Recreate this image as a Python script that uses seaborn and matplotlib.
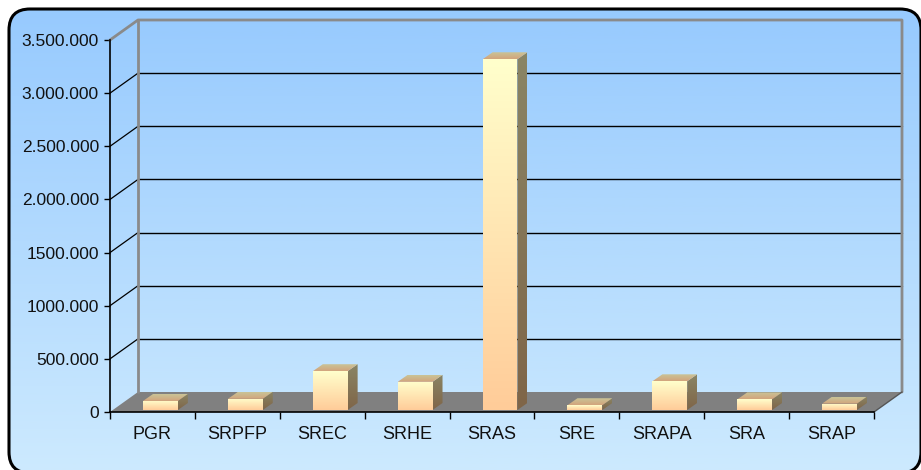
import numpy as np
import matplotlib
matplotlib.use("Agg")
import matplotlib.pyplot as plt
from matplotlib.patches import FancyBboxPatch, Polygon, Rectangle
from matplotlib.transforms import IdentityTransform
from matplotlib.colors import to_rgb
import seaborn as sns

# ---- data ----
categories = ["PGR", "SRPFP", "SREC", "SRHE", "SRAS", "SRE", "SRAPA", "SRA", "SRAP"]
values = [85000, 105000, 365000, 265000, 3300000, 45000, 270000, 100000, 60000]
ytick_values = [0, 500000, 1000000, 1500000, 2000000, 2500000, 3000000, 3500000]
ytick_labels = ["0", "500.000", "1000.000", "1500.000", "2.000.000",
                "2.500.000", "3.000.000", "3.500.000"]

sns.set_theme(style="white")
plt.rcParams["font.family"] = ["Liberation Sans", "DejaVu Sans"]

W, H = 921, 470
fig = plt.figure(figsize=(W / 100, H / 100), dpi=100)
fig.patch.set_facecolor("white")

# ---- background frame (pixel coords, y up) ----
axbg = fig.add_axes([0, 0, 1, 1])
axbg.set_xlim(0, W)
axbg.set_ylim(0, H)
axbg.axis("off")
fl_, ft_, fr_, fb_ = 9, 9, 921, 473   # left, top, right, bottom in image px
frame = FancyBboxPatch((fl_, H - fb_), fr_ - fl_, fb_ - ft_,
                       boxstyle="round,pad=0,rounding_size=21",
                       facecolor="none", edgecolor="black", linewidth=2.2, zorder=3,
                       clip_on=False)
axbg.add_patch(frame)
t = np.linspace(0, 1, 256).reshape(-1, 1)
top_c = np.array(to_rgb("#97cafe"))
bot_c = np.array(to_rgb("#cdeafe"))
grad = top_c[None, None, :] * (1 - t[:, :, None]) + bot_c[None, None, :] * t[:, :, None]
img = axbg.imshow(grad, extent=[fl_, fr_, H - fb_, H - ft_], origin="upper",
                  aspect="auto", zorder=1)
img.set_clip_path(frame)

# ---- main axes ----
x0p, x1p, y0p, y1p = 110, 874, 412, 40
ax = fig.add_axes([x0p / W, (H - y0p) / H, (x1p - x0p) / W, (y0p - y1p) / H])
ax.patch.set_visible(False)

sns.barplot(x=categories, y=values, ax=ax, width=0.41, color="#ffd9a8",
            linewidth=0, saturation=1, zorder=5)
ax.set_xlim(-0.5, len(categories) - 0.5)
ax.set_ylim(0, ytick_values[-1])
ax.set_autoscale_on(False)

DX, DY = 28, 20      # depth of back wall (px)
BDX, BDY = 8, 2      # bar front-plane offset
SDX, SDY = 10, 7     # bar depth
ident = IdentityTransform()


def P(x, y, dx=0, dy=0):
    px, py = ax.transData.transform((x, y))
    return (px + dx, py + dy)


xl, xr = -0.5, len(categories) - 0.5
ymax = ytick_values[-1]

# floor
floor = Polygon([P(xl, 0), P(xr, 0), P(xr, 0, DX, DY), P(xl, 0, DX, DY)],
                closed=True, transform=ident, facecolor="#808080",
                edgecolor="none", clip_on=False, zorder=1)
ax.add_patch(floor)

# back-wall gridlines & side-wall lines
for v in ytick_values[1:-1]:
    a, b = P(xl, v, DX, DY), P(xr, v, DX, DY)
    ax.add_line(plt.Line2D([a[0], b[0]], [a[1], b[1]], transform=ident,
                           color="black", lw=1.0, clip_on=False, zorder=2))
    c = P(xl, v)
    ax.add_line(plt.Line2D([c[0], a[0]], [c[1], a[1]], transform=ident,
                           color="black", lw=0.9, clip_on=False, zorder=2))
gray = "#8a8a8a"
pts = [P(xl, ymax), P(xl, ymax, DX, DY), P(xr, ymax, DX, DY), P(xr, 0, DX, DY)]
ax.add_line(plt.Line2D([p[0] for p in pts], [p[1] for p in pts], transform=ident,
                       color=gray, lw=2.0, clip_on=False, zorder=2))
a, b = P(xl, 0, DX, DY), P(xl, ymax, DX, DY)
ax.add_line(plt.Line2D([a[0], b[0]], [a[1], b[1]], transform=ident,
                       color=gray, lw=2.0, clip_on=False, zorder=2))
a, b = P(xr, 0), P(xr, 0, DX, DY)
ax.add_line(plt.Line2D([a[0], b[0]], [a[1], b[1]], transform=ident,
                       color="#555555", lw=1.0, clip_on=False, zorder=2))


def grad_poly(pts, c1, c2, z=6):
    poly = Polygon(pts, closed=True, transform=ident, facecolor="none",
                   edgecolor="none", clip_on=False, zorder=z)
    ax.add_patch(poly)
    xs = [p[0] for p in pts]
    ys = [p[1] for p in pts]
    tt = np.linspace(0, 1, 128)
    c1 = np.array(to_rgb(c1)); c2 = np.array(to_rgb(c2))
    cols = c1[None, :] * (1 - tt[:, None]) + c2[None, :] * tt[:, None]
    arr = cols[:, None, :]
    im = ax.imshow(arr, extent=[min(xs), max(xs), min(ys), max(ys)],
                   origin="lower", aspect="auto", transform=ident,
                   interpolation="bilinear", zorder=z)
    im.set_clip_path(poly)
    return poly


for patch in list(ax.patches):
    if patch is floor or not isinstance(patch, Rectangle):
        continue
    bx, bw, bh = patch.get_x(), patch.get_width(), patch.get_height()
    if bh <= 0:
        continue
    patch.set_visible(False)
    fl, fr = P(bx, 0, BDX, BDY), P(bx + bw, 0, BDX, BDY)
    tl, tr = P(bx, bh, BDX, BDY), P(bx + bw, bh, BDX, BDY)
    grad_poly([fr, tr, (tr[0] + SDX, tr[1] + SDY), (fr[0] + SDX, fr[1] + SDY)],
              "#7f6548", "#8a8565", z=6)
    grad_poly([tl, tr, (tr[0] + SDX, tr[1] + SDY), (tl[0] + SDX, tl[1] + SDY)],
              "#d3a47c", "#c9c497", z=6)
    grad_poly([fl, fr, tr, tl], "#ffcc99", "#ffffcc", z=7)

for s in ["top", "right"]:
    ax.spines[s].set_visible(False)
for s in ["left", "bottom"]:
    ax.spines[s].set_color("black")
    ax.spines[s].set_linewidth(1.2)
    ax.spines[s].set_zorder(3)

ax.set_yticks(ytick_values)
ax.set_yticklabels(ytick_labels)
ax.tick_params(axis="y", direction="out", length=4, width=1, color="black",
               pad=4, labelsize=12.5, labelcolor="#111111", left=True)
ax.set_xticks(range(len(categories)))
ax.set_xticklabels(categories)
ax.set_xticks(np.arange(-0.5, len(categories), 1.0), minor=True)
ax.tick_params(axis="x", which="major", length=0, pad=10, labelsize=13,
               labelcolor="#111111")
ax.tick_params(axis="x", which="minor", direction="out", length=5, width=1,
               color="black", bottom=True)
ax.set_xlabel("")
ax.set_ylabel("")
ax.grid(False)

fig.savefig("out.png", dpi=100)
